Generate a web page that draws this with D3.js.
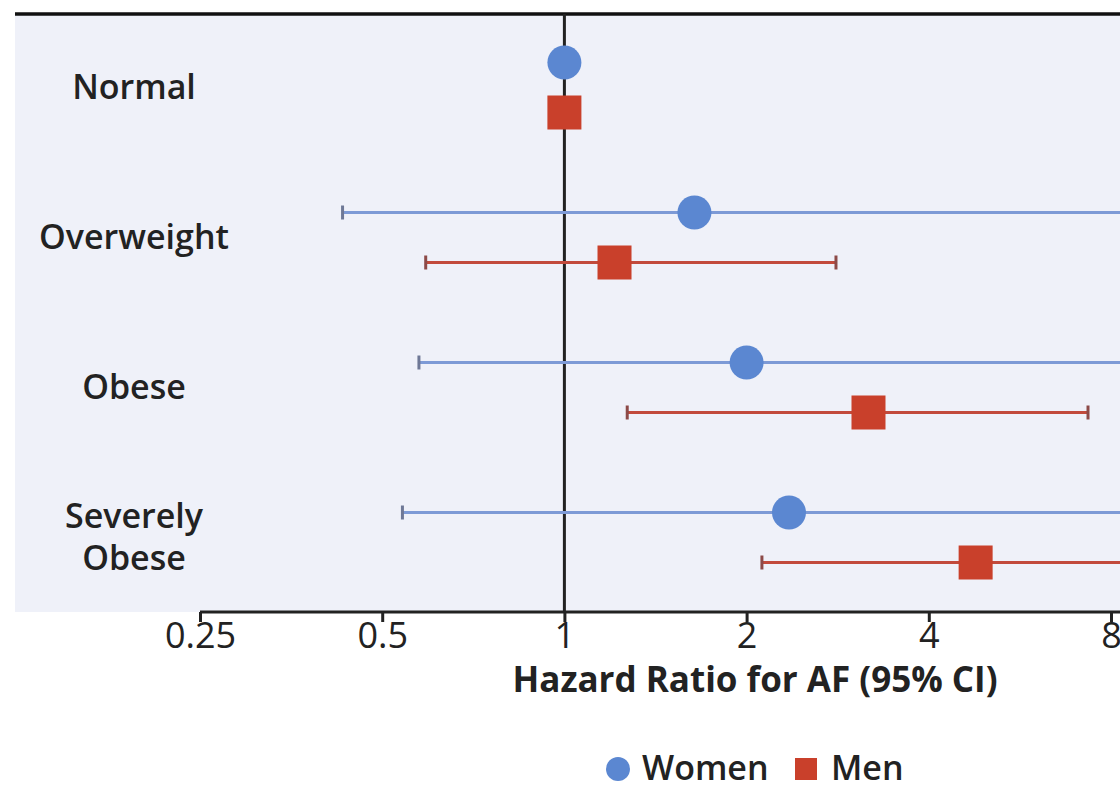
<!DOCTYPE html>
<html>
<head>
<meta charset="utf-8">
<script src="https://cdn.jsdelivr.net/npm/d3@7"></script>
<style>
  body { margin: 0; background: #fff; }
  svg { display: block; font-family: "Open Sans", "Noto Sans", sans-serif; }
</style>
</head>
<body>
<svg id="chart" width="1120" height="785"></svg>
<script>
"use strict";
// hazard ratios (upper CI of some rows runs off the right edge)
const categories = ["Normal", "Overweight", "Obese", "Severely Obese"];
const womenHR = [1, 1.64, 2.0, 2.35];
const womenLo = [null, 0.43, 0.575, 0.54];
const womenHi = [null, 10.5, 11.5, 12.5];
const menHR = [1, 1.21, 3.18, 4.78];
const menLo = [null, 0.59, 1.27, 2.12];
const menHi = [null, 2.81, 7.33, 10.8];
const tickValues = [0.25, 0.5, 1, 2, 4, 8];

(function() {
  const svg = d3.select("#chart");
  const width = +svg.attr("width");

  const top = 14, bottom = 612, left = 15;

  const x = d3.scaleLog().base(2)
    .domain([0.25, 8])
    .range([200, 1111]);

  const y = d3.scalePoint()
    .domain(categories)
    .range([87.5, 537.5]);

  const offset = 25;

  const series = [
    { name: "Women", hr: womenHR, lo: womenLo, hi: womenHi, dy: -offset,
      fill: "#5b87d1", line: "#7d9ad6", cap: "#6e7896", shape: "circle" },
    { name: "Men", hr: menHR, lo: menLo, hi: menHi, dy: offset,
      fill: "#c9402b", line: "#c24a3c", cap: "#8c4a48", shape: "square" }
  ];

  svg.append("defs").append("clipPath").attr("id", "plotclip")
    .append("rect")
    .attr("x", left).attr("y", top)
    .attr("width", width - left).attr("height", bottom - top);

  // panel background
  svg.append("rect")
    .attr("x", left).attr("y", top)
    .attr("width", width - left).attr("height", bottom - top)
    .attr("fill", "#eff1f9");

  // top border
  svg.append("line")
    .attr("x1", left).attr("x2", width)
    .attr("y1", top).attr("y2", top)
    .attr("stroke", "#111").attr("stroke-width", 3.5);

  // reference line at HR = 1
  svg.append("line")
    .attr("x1", x(1)).attr("x2", x(1))
    .attr("y1", top).attr("y2", bottom)
    .attr("stroke", "#222").attr("stroke-width", 3);

  // category labels
  const labels = svg.append("g")
    .attr("font-size", 34)
    .attr("font-weight", 600)
    .attr("fill", "#222")
    .attr("text-anchor", "middle");

  categories.forEach(c => {
    const words = c === "Severely Obese" ? ["Severely", "Obese"] : [c];
    const t = labels.append("text")
      .attr("y", y(c) - (words.length - 1) * 21);
    words.forEach((w, i) => {
      t.append("tspan").attr("x", 134).attr("dy", i === 0 ? "0.35em" : 42).text(w);
    });
  });

  const plot = svg.append("g").attr("clip-path", "url(#plotclip)");

  series.forEach(s => {
    const rows = categories.map((c, i) => ({ c: c, hr: s.hr[i], lo: s.lo[i], hi: s.hi[i] }));
    const withCI = rows.filter(d => d.lo != null);
    const g = plot.append("g");

    g.selectAll("line.ci")
      .data(withCI)
      .enter().append("line")
        .attr("class", "ci")
        .attr("x1", d => x(d.lo))
        .attr("x2", d => x(d.hi))
        .attr("y1", d => y(d.c) + s.dy)
        .attr("y2", d => y(d.c) + s.dy)
        .attr("stroke", s.line)
        .attr("stroke-width", 3);

    ["lo", "hi"].forEach(k => {
      g.selectAll("line.cap-" + k)
        .data(withCI)
        .enter().append("line")
          .attr("class", "cap-" + k)
          .attr("x1", d => x(d[k]))
          .attr("x2", d => x(d[k]))
          .attr("y1", d => y(d.c) + s.dy - 7)
          .attr("y2", d => y(d.c) + s.dy + 7)
          .attr("stroke", s.cap)
          .attr("stroke-width", 3);
    });

    if (s.shape === "circle") {
      g.selectAll("circle")
        .data(rows)
        .enter().append("circle")
          .attr("cx", d => x(d.hr))
          .attr("cy", d => y(d.c) + s.dy)
          .attr("r", 17)
          .attr("fill", s.fill);
    } else {
      g.selectAll("rect")
        .data(rows)
        .enter().append("rect")
          .attr("x", d => x(d.hr) - 17)
          .attr("y", d => y(d.c) + s.dy - 17)
          .attr("width", 34)
          .attr("height", 34)
          .attr("fill", s.fill);
    }
  });

  // x axis
  const axis = svg.append("g")
    .attr("transform", "translate(0," + bottom + ")")
    .call(d3.axisBottom(x)
      .tickValues(tickValues)
      .tickFormat(d => String(d))
      .tickSize(10)
      .tickSizeOuter(0)
      .tickPadding(0));

  axis.select(".domain")
    .attr("d", "M" + x(0.25) + ",0H" + width)
    .attr("stroke", "#222").attr("stroke-width", 3);
  axis.selectAll(".tick line").attr("stroke", "#222").attr("stroke-width", 3);
  axis.selectAll(".tick text")
    .attr("fill", "#222")
    .attr("font-size", 36)
    .attr("font-family", "\"Open Sans\", sans-serif");

  svg.append("text")
    .attr("x", 755)
    .attr("y", 692)
    .attr("text-anchor", "middle")
    .attr("font-size", 35)
    .attr("font-weight", 700)
    .attr("fill", "#222")
    .text("Hazard Ratio for AF (95% CI)");

  // legend
  const legend = svg.append("g").attr("font-size", 34).attr("fill", "#222").attr("font-weight", 600);
  legend.append("circle").attr("cx", 618).attr("cy", 769).attr("r", 12).attr("fill", series[0].fill);
  legend.append("text").attr("x", 642).attr("y", 780).text("Women");
  legend.append("rect").attr("x", 795).attr("y", 758).attr("width", 22).attr("height", 22).attr("fill", series[1].fill);
  legend.append("text").attr("x", 831).attr("y", 780).text("Men");
})();
</script>
</body>
</html>
